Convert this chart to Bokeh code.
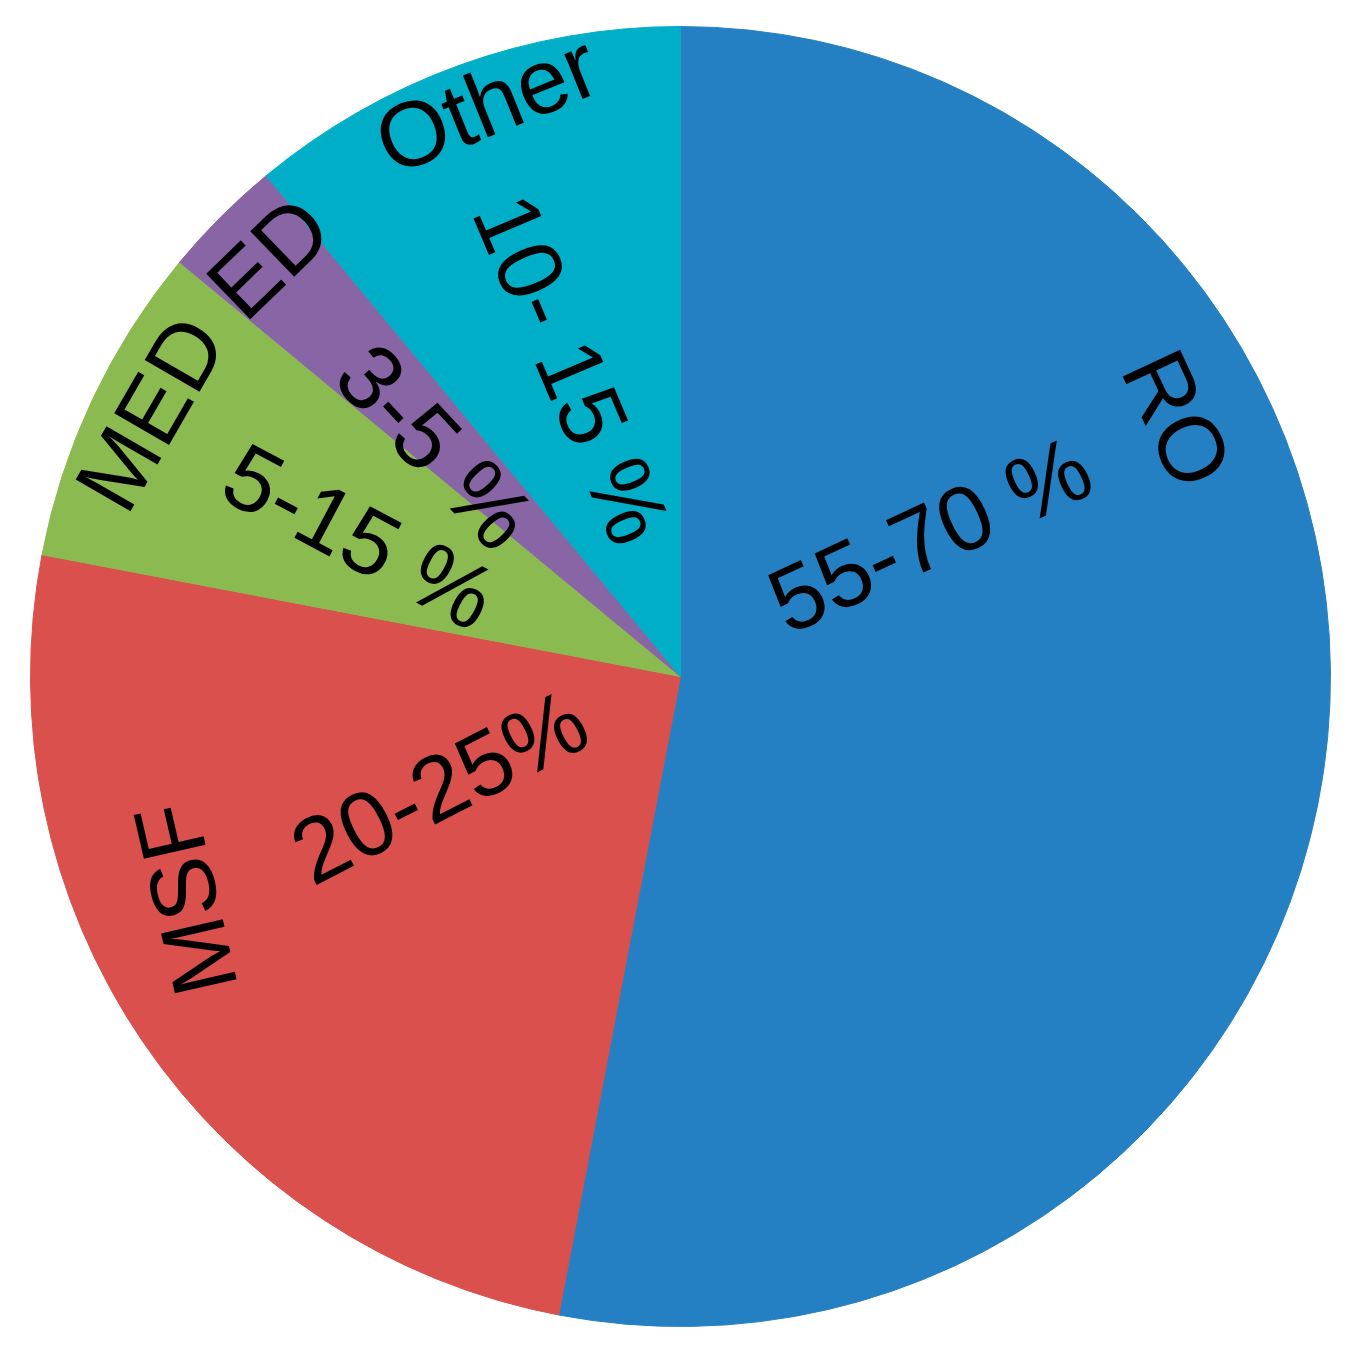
import math
from bokeh.plotting import figure
from bokeh.models import Range1d, ColumnDataSource
from bokeh.core.properties import value
from bokeh.embed import file_html
from bokeh.resources import INLINE

# ---- data ----
categories = ["RO", "MSF", "MED", "ED", "Other"]
shares = [53.0, 25.0, 8.0, 3.0, 11.0]          # share of the circle (percent)
ranges = ["55-70 %", "20-25%", "5-15 %", "3-5 %", "10- 15 %"]
colors = ["#2480C2", "#D9504D", "#8BBB50", "#8866A6", "#00AEC8"]

# ---- layout / style ----
W, H = 1349, 1351
CX, CY = 680, 676          # pie centre in figure pixels (from left / from top)
R = 650
FONT = value("Liberation Sans")
FS = "92px"

# label placement: (polar angle clockwise from 12 o'clock, radius px, text rotation deg)
name_place = {
    "RO": (62.6, 560, -65),
    "MSF": (245.8, 543, 103),
    "MED": (296.4, 592, 60),
    "ED": (315.5, 588, 44),
    "Other": (341.3, 605, 22),
}
range_place = {
    "RO": (60.3, 287, 25),
    "MSF": (245.5, 265, 27),
    "MED": (293.6, 350, -28),
    "ED": (313.2, 336, -47),
    "Other": (340.6, 326, -67),
}

p = figure(width=W, height=H, output_backend="svg", toolbar_location=None,
           x_range=Range1d(-CX, W - CX), y_range=Range1d(CY - H, CY),
           min_border=0, outline_line_color=None, background_fill_color="white")
p.axis.visible = False
p.grid.visible = False

total = sum(shares)
starts, ends = [], []
acc = 0.0
for s in shares:
    starts.append(math.radians(90 - 360 * acc / total))
    acc += s
    ends.append(math.radians(90 - 360 * acc / total))

src = ColumnDataSource(dict(cat=categories, start=starts, end=ends, color=colors))
p.wedge(x=0, y=0, radius=R, start_angle="start", end_angle="end", direction="clock",
        fill_color="color", line_color="color", line_width=1, source=src)

lx, ly, la, lt = [], [], [], []
for i, c in enumerate(categories):
    for tbl, text in ((name_place, c), (range_place, ranges[i])):
        a, r, rot = tbl[c]
        lx.append(r * math.sin(math.radians(a)))
        ly.append(r * math.cos(math.radians(a)))
        la.append(math.radians(rot))
        lt.append(text)

p.text(x=lx, y=ly, text=lt, angle=la, text_align="center", text_baseline="middle",
       text_font=FONT, text_font_size=FS, text_color="black")

open("out.html", "w").write(file_html(p, INLINE))
